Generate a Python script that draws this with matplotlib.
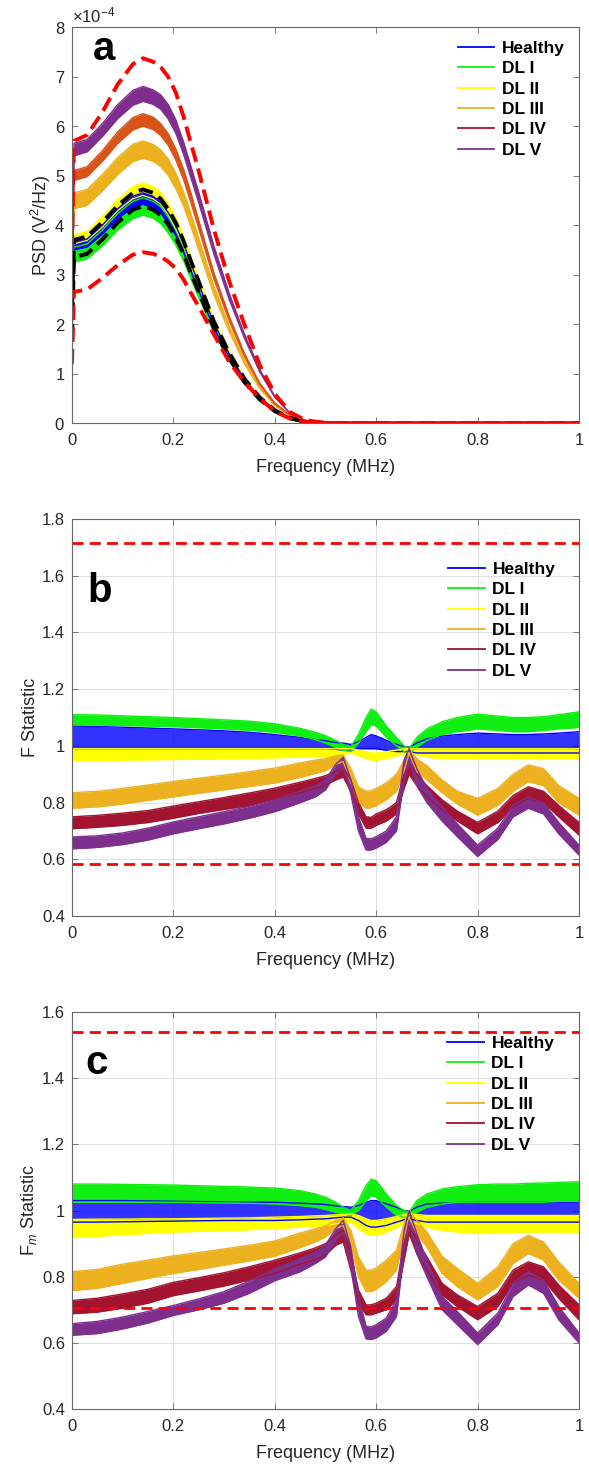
import numpy as np
import matplotlib
matplotlib.use('Agg')
import matplotlib.pyplot as plt
from matplotlib.lines import Line2D
from matplotlib.ticker import ScalarFormatter, FuncFormatter

plt.rcParams['font.family'] = ['Liberation Sans', 'DejaVu Sans']
plt.rcParams['mathtext.fontset'] = 'custom'
plt.rcParams['mathtext.rm'] = 'Liberation Sans'
plt.rcParams['mathtext.it'] = 'Liberation Sans:italic'
plt.rcParams['mathtext.bf'] = 'Liberation Sans:bold'

# ---- datos ----
labels = ['Healthy', 'DL I', 'DL II', 'DL III', 'DL IV', 'DL V']
legend_colors = ['#0000FF', '#11EE11', '#FFFF00', '#EDB120', '#A2142F', '#7E2F8E']

# panel a: PSD (unidades de 1e-4 V^2/Hz), envolventes inferior / superior de cada grupo
xa = [0, 0.004, 0.03, 0.06, 0.09, 0.12, 0.14, 0.16, 0.175, 0.19, 0.205, 0.22, 0.235,
      0.25, 0.28, 0.31, 0.34, 0.37, 0.40, 0.43, 0.46, 0.49, 0.52, 0.6, 1.0]
a_green_lo = [1.65, 3.25, 3.32, 3.58, 3.90, 4.13, 4.20, 4.14, 4.03, 3.84, 3.59, 3.28, 2.90,
              2.54, 1.83, 1.26, 0.80, 0.46, 0.23, 0.09, 0.025, 0.004, 0, 0, 0]
a_green_hi = [1.80, 3.55, 3.62, 3.90, 4.23, 4.48, 4.55, 4.48, 4.37, 4.16, 3.89, 3.55, 3.14,
              2.75, 1.98, 1.37, 0.86, 0.50, 0.25, 0.10, 0.027, 0.005, 0, 0, 0]
a_blue_lo = [1.75, 3.50, 3.56, 3.82, 4.13, 4.36, 4.42, 4.35, 4.24, 4.04, 3.78, 3.45, 3.05,
             2.67, 1.92, 1.33, 0.84, 0.49, 0.24, 0.10, 0.027, 0.004, 0, 0, 0]
a_blue_hi = [1.85, 3.65, 3.72, 4.00, 4.33, 4.58, 4.65, 4.58, 4.46, 4.25, 3.98, 3.63, 3.21,
             2.81, 2.02, 1.40, 0.88, 0.51, 0.26, 0.10, 0.028, 0.005, 0, 0, 0]
a_yellow_lo = [1.80, 3.62, 3.69, 3.96, 4.29, 4.53, 4.60, 4.53, 4.42, 4.21, 3.93, 3.59, 3.17,
               2.78, 2.00, 1.38, 0.87, 0.51, 0.25, 0.10, 0.028, 0.005, 0, 0, 0]
a_yellow_hi = [1.90, 3.80, 3.87, 4.17, 4.51, 4.78, 4.85, 4.78, 4.66, 4.44, 4.15, 3.78, 3.35,
               2.93, 2.11, 1.46, 0.92, 0.53, 0.27, 0.11, 0.03, 0.005, 0, 0, 0]
a_orange_lo = [2.15, 4.33, 4.40, 4.69, 5.02, 5.28, 5.35, 5.29, 5.18, 5.00, 4.73, 4.39, 3.96,
               3.50, 2.59, 1.85, 1.20, 0.70, 0.35, 0.14, 0.04, 0.01, 0, 0, 0]
a_orange_hi = [2.30, 4.65, 4.72, 5.02, 5.36, 5.63, 5.70, 5.63, 5.52, 5.33, 5.04, 4.67, 4.22,
               3.73, 2.76, 1.97, 1.28, 0.74, 0.37, 0.15, 0.05, 0.01, 0, 0, 0]
a_red_lo = [2.45, 4.90, 4.98, 5.29, 5.65, 5.92, 6.00, 5.93, 5.81, 5.61, 5.31, 4.92, 4.44,
            3.93, 2.91, 2.07, 1.35, 0.78, 0.39, 0.16, 0.05, 0.01, 0, 0, 0]
a_red_hi = [2.55, 5.10, 5.18, 5.50, 5.88, 6.17, 6.25, 6.18, 6.05, 5.84, 5.53, 5.13, 4.63,
            4.09, 3.03, 2.16, 1.41, 0.81, 0.41, 0.16, 0.05, 0.01, 0, 0, 0]
a_purple_lo = [2.70, 5.40, 5.48, 5.79, 6.15, 6.42, 6.50, 6.44, 6.34, 6.14, 5.85, 5.43, 4.94,
               4.45, 3.41, 2.50, 1.72, 1.04, 0.52, 0.20, 0.05, 0.01, 0, 0, 0]
a_purple_hi = [2.80, 5.65, 5.73, 6.05, 6.43, 6.72, 6.80, 6.73, 6.63, 6.43, 6.12, 5.68, 5.17,
               4.66, 3.57, 2.62, 1.80, 1.09, 0.54, 0.20, 0.05, 0.01, 0, 0, 0]
a_black_hi = [2.30, 3.70, 3.77, 4.06, 4.39, 4.65, 4.72, 4.65, 4.53, 4.32, 4.04, 3.68, 3.26,
              2.86, 2.05, 1.42, 0.90, 0.52, 0.26, 0.10, 0.03, 0.005, 0, 0, 0]
a_black_lo = [1.70, 3.35, 3.42, 3.71, 4.05, 4.31, 4.38, 4.31, 4.20, 4.01, 3.74, 3.42, 3.02,
              2.65, 1.91, 1.31, 0.83, 0.48, 0.24, 0.10, 0.03, 0.005, 0, 0, 0]
a_limit_hi = [3.50, 5.70, 5.82, 6.28, 6.84, 7.25, 7.37, 7.30, 7.19, 6.99, 6.67, 6.19, 5.64,
              5.09, 3.91, 2.87, 1.99, 1.18, 0.59, 0.22, 0.06, 0.015, 0, 0, 0]
a_limit_lo = [1.20, 2.65, 2.70, 2.93, 3.19, 3.40, 3.45, 3.42, 3.36, 3.26, 3.12, 2.90, 2.62,
              2.35, 1.79, 1.24, 0.83, 0.50, 0.24, 0.09, 0.03, 0.005, 0, 0, 0]

# paneles b y c: eje de frecuencia comun
xb = [0, 0.05, 0.1, 0.15, 0.2, 0.25, 0.3, 0.35, 0.4, 0.45, 0.48, 0.5, 0.52, 0.535,
      0.55, 0.565, 0.58, 0.59, 0.6, 0.62, 0.64, 0.655, 0.665, 0.68, 0.7, 0.73, 0.76,
      0.8, 0.84, 0.87, 0.9, 0.93, 0.96, 1.0]

# panel b: estadistico F
b_blue_lo = [0.99, 0.99, 0.99, 0.99, 0.99, 0.99, 0.99, 0.99, 0.99, 0.99, 0.99, 0.99,
             0.988, 0.985, 0.985, 0.99, 0.99, 0.99, 0.99, 0.985, 0.98, 0.98, 0.98, 0.975,
             0.975, 0.975, 0.975, 0.975, 0.975, 0.975, 0.975, 0.975, 0.975, 0.975]
b_blue_hi = [1.07, 1.068, 1.066, 1.063, 1.06, 1.057, 1.053, 1.048, 1.04, 1.03, 1.022,
             1.018, 1.012, 1.01, 1.005, 1.015, 1.03, 1.04, 1.035, 1.02, 1.005, 0.998, 0.995,
             1.01, 1.025, 1.035, 1.04, 1.045, 1.042, 1.04, 1.04, 1.042, 1.045, 1.05]
b_green_lo = [1.075, 1.074, 1.072, 1.07, 1.068, 1.064, 1.06, 1.055, 1.048, 1.035, 1.022,
              1.01, 0.995, 0.985, 0.98, 1.01, 1.05, 1.075, 1.07, 1.03, 1.0, 0.98, 0.975,
              0.995, 1.02, 1.04, 1.05, 1.06, 1.055, 1.05, 1.05, 1.055, 1.06, 1.065]
b_green_hi = [1.11, 1.109, 1.106, 1.103, 1.1, 1.096, 1.092, 1.087, 1.078, 1.062, 1.048,
              1.036, 1.02, 1.005, 0.998, 1.04, 1.1, 1.13, 1.12, 1.07, 1.03, 1.0, 0.99,
              1.03, 1.06, 1.085, 1.1, 1.112, 1.105, 1.1, 1.1, 1.103, 1.11, 1.12]
b_yellow_lo = [0.948, 0.949, 0.95, 0.951, 0.952, 0.953, 0.954, 0.956, 0.958, 0.96, 0.961,
               0.962, 0.966, 0.97, 0.975, 0.965, 0.955, 0.95, 0.95, 0.955, 0.965, 0.972,
               0.975, 0.968, 0.96, 0.956, 0.955, 0.955, 0.955, 0.955, 0.955, 0.955, 0.955, 0.955]
b_yellow_hi = [0.99, 0.99, 0.99, 0.99, 0.99, 0.99, 0.99, 0.99, 0.99, 0.99, 0.99, 0.99,
               0.99, 0.99, 0.99, 0.985, 0.98, 0.975, 0.975, 0.98, 0.985, 0.99, 0.99, 0.99,
               0.99, 0.99, 0.99, 0.99, 0.99, 0.99, 0.99, 0.99, 0.99, 0.99]
b_orange_lo = [0.78, 0.785, 0.795, 0.808, 0.82, 0.833, 0.845, 0.857, 0.869, 0.889, 0.903,
               0.912, 0.935, 0.945, 0.87, 0.80, 0.78, 0.782, 0.79, 0.81, 0.84, 0.91, 0.975,
               0.91, 0.88, 0.835, 0.795, 0.756, 0.79, 0.84, 0.874, 0.86, 0.80, 0.756]
b_orange_hi = [0.835, 0.84, 0.85, 0.862, 0.875, 0.886, 0.897, 0.909, 0.922, 0.94, 0.95,
               0.955, 0.965, 0.968, 0.92, 0.855, 0.84, 0.842, 0.85, 0.87, 0.9, 0.95, 0.99,
               0.955, 0.93, 0.88, 0.84, 0.815, 0.85, 0.9, 0.933, 0.92, 0.86, 0.815]
b_red_lo = [0.708, 0.713, 0.72, 0.73, 0.745, 0.762, 0.776, 0.79, 0.81, 0.835, 0.85, 0.862,
            0.88, 0.89, 0.84, 0.76, 0.71, 0.71, 0.72, 0.735, 0.76, 0.85, 0.9, 0.86, 0.82,
            0.775, 0.735, 0.69, 0.73, 0.785, 0.815, 0.8, 0.75, 0.686]
b_red_hi = [0.75, 0.755, 0.763, 0.772, 0.788, 0.803, 0.818, 0.834, 0.851, 0.872, 0.885,
            0.895, 0.91, 0.925, 0.88, 0.8, 0.75, 0.748, 0.76, 0.775, 0.8, 0.9, 0.94, 0.9,
            0.86, 0.81, 0.77, 0.73, 0.77, 0.825, 0.856, 0.84, 0.79, 0.73]
b_purple_lo = [0.637, 0.642, 0.652, 0.668, 0.69, 0.708, 0.725, 0.745, 0.768, 0.8, 0.82,
               0.845, 0.9, 0.925, 0.83, 0.7, 0.633, 0.633, 0.64, 0.66, 0.7, 0.88, 0.95,
               0.86, 0.8, 0.735, 0.68, 0.61, 0.67, 0.75, 0.78, 0.76, 0.69, 0.615]
b_purple_hi = [0.679, 0.683, 0.693, 0.71, 0.732, 0.75, 0.768, 0.787, 0.81, 0.84, 0.86,
               0.88, 0.935, 0.96, 0.88, 0.75, 0.674, 0.672, 0.68, 0.7, 0.75, 0.95, 0.99,
               0.92, 0.85, 0.785, 0.725, 0.65, 0.71, 0.79, 0.82, 0.8, 0.73, 0.65]
b_limits = [1.717, 0.583]

# panel c: estadistico Fm
c_blue_lo = [0.965, 0.965, 0.966, 0.967, 0.968, 0.969, 0.97, 0.97, 0.97, 0.972, 0.974,
             0.975, 0.978, 0.98, 0.98, 0.97, 0.955, 0.95, 0.95, 0.955, 0.965, 0.972, 0.975,
             0.97, 0.965, 0.965, 0.965, 0.965, 0.965, 0.965, 0.965, 0.965, 0.965, 0.965]
c_blue_hi = [1.03, 1.03, 1.03, 1.029, 1.028, 1.027, 1.026, 1.025, 1.025, 1.022, 1.02,
             1.018, 1.014, 1.012, 1.01, 1.015, 1.025, 1.03, 1.03, 1.02, 1.01, 1.0, 0.998,
             1.01, 1.02, 1.022, 1.024, 1.025, 1.025, 1.025, 1.025, 1.025, 1.025, 1.025]
c_green_lo = [1.025, 1.025, 1.025, 1.025, 1.025, 1.024, 1.023, 1.022, 1.02, 1.015, 1.01,
              1.003, 0.995, 0.99, 0.985, 1.0, 1.03, 1.045, 1.04, 1.01, 0.985, 0.98, 0.98,
              0.995, 1.01, 1.02, 1.025, 1.025, 1.025, 1.025, 1.025, 1.025, 1.028, 1.03]
c_green_hi = [1.08, 1.08, 1.079, 1.078, 1.077, 1.075, 1.073, 1.071, 1.068, 1.06, 1.05,
              1.04, 1.025, 1.01, 1.0, 1.03, 1.075, 1.095, 1.09, 1.05, 1.015, 1.0, 0.995,
              1.03, 1.05, 1.065, 1.072, 1.078, 1.08, 1.08, 1.082, 1.083, 1.085, 1.087]
c_yellow_lo = [0.918, 0.922, 0.927, 0.931, 0.935, 0.937, 0.939, 0.942, 0.945, 0.95, 0.953,
               0.955, 0.96, 0.963, 0.965, 0.945, 0.93, 0.925, 0.925, 0.935, 0.948, 0.962,
               0.97, 0.96, 0.95, 0.94, 0.935, 0.93, 0.932, 0.935, 0.935, 0.935, 0.935, 0.935]
c_yellow_hi = [0.973, 0.974, 0.974, 0.975, 0.975, 0.976, 0.977, 0.978, 0.98, 0.982, 0.984,
               0.985, 0.987, 0.988, 0.99, 0.985, 0.975, 0.97, 0.97, 0.975, 0.982, 0.988,
               0.99, 0.988, 0.985, 0.985, 0.985, 0.985, 0.985, 0.985, 0.985, 0.985, 0.985, 0.985]
c_orange_lo = [0.758, 0.765, 0.78, 0.795, 0.81, 0.822, 0.835, 0.848, 0.862, 0.888, 0.905,
               0.92, 0.945, 0.955, 0.9, 0.8, 0.755, 0.755, 0.762, 0.785, 0.82, 0.92, 0.98,
               0.93, 0.89, 0.81, 0.77, 0.73, 0.77, 0.84, 0.87, 0.85, 0.79, 0.735]
c_orange_hi = [0.815, 0.822, 0.838, 0.85, 0.863, 0.873, 0.884, 0.895, 0.908, 0.932, 0.945,
               0.953, 0.97, 0.978, 0.94, 0.86, 0.82, 0.82, 0.827, 0.85, 0.88, 0.96, 1.0,
               0.97, 0.935, 0.862, 0.825, 0.78, 0.83, 0.9, 0.925, 0.905, 0.845, 0.78]
c_red_lo = [0.688, 0.693, 0.705, 0.72, 0.743, 0.757, 0.772, 0.79, 0.81, 0.838, 0.852,
            0.865, 0.895, 0.905, 0.82, 0.72, 0.685, 0.685, 0.69, 0.7, 0.73, 0.85, 0.93,
            0.87, 0.82, 0.745, 0.71, 0.67, 0.71, 0.78, 0.805, 0.79, 0.735, 0.67]
c_red_hi = [0.728, 0.735, 0.748, 0.762, 0.783, 0.797, 0.812, 0.83, 0.85, 0.872, 0.887,
            0.9, 0.925, 0.94, 0.87, 0.76, 0.715, 0.715, 0.72, 0.735, 0.77, 0.9, 0.955,
            0.91, 0.86, 0.78, 0.745, 0.71, 0.75, 0.82, 0.845, 0.83, 0.775, 0.715]
c_purple_lo = [0.623, 0.628, 0.642, 0.66, 0.683, 0.7, 0.72, 0.75, 0.788, 0.815, 0.84,
               0.86, 0.91, 0.935, 0.83, 0.68, 0.612, 0.61, 0.615, 0.635, 0.68, 0.88, 0.97,
               0.87, 0.8, 0.7, 0.655, 0.595, 0.655, 0.74, 0.775, 0.75, 0.67, 0.6]
c_purple_hi = [0.658, 0.665, 0.678, 0.695, 0.713, 0.733, 0.755, 0.787, 0.823, 0.855, 0.875,
               0.895, 0.945, 0.97, 0.89, 0.74, 0.65, 0.648, 0.655, 0.675, 0.73, 0.94, 1.0,
               0.93, 0.85, 0.74, 0.695, 0.63, 0.69, 0.78, 0.815, 0.79, 0.71, 0.63]
c_limits = [1.54, 0.705]

TXT = '#262626'


def band(ax, x, lo, hi, color, scale=1.0, alpha=1.0):
    lo = np.array(lo) * scale
    hi = np.array(hi) * scale
    ax.fill_between(x, lo, hi, color=color, lw=0, alpha=alpha)
    ax.plot(x, lo, color=color, lw=1.0)
    ax.plot(x, hi, color=color, lw=1.0)


def style(ax, grid):
    ax.set_xlim(0, 1)
    ax.set_xticks([0, 0.2, 0.4, 0.6, 0.8, 1.0])
    ax.xaxis.set_major_formatter(FuncFormatter(lambda v, p: f'{v:g}'))
    ax.tick_params(direction='in', top=True, right=True, length=4, width=0.6,
                   color='#666666', labelcolor=TXT, labelsize=12)
    ax.tick_params(axis='x', pad=7)
    ax.tick_params(axis='y', pad=5)
    for s in ax.spines.values():
        s.set_color('#666666')
        s.set_linewidth(0.8)
    if grid:
        ax.grid(True, color='#e0e0e0', lw=0.7)
        ax.set_axisbelow(True)
    ax.set_xlabel('Frequency (MHz)', fontsize=13, color=TXT, labelpad=8)


def legend(ax, anchor):
    handles = [Line2D([], [], color=c, lw=1.3) for c in legend_colors]
    ax.legend(handles, labels, loc='upper left', bbox_to_anchor=anchor, frameon=False,
              prop={'weight': 'bold', 'size': 12.5}, handlelength=2.1, handletextpad=0.45,
              labelspacing=0.3, borderpad=0, borderaxespad=0)


fig = plt.figure(figsize=(5.89, 14.69), dpi=100)
ax_a = fig.add_axes([0.1222, 0.7120, 0.8608, 0.2696])
ax_b = fig.add_axes([0.1222, 0.3764, 0.8608, 0.2703])
ax_c = fig.add_axes([0.1222, 0.0408, 0.8608, 0.2703])

# ---- a ----
band(ax_a, xa, a_green_lo, a_green_hi, '#11EE11', 1e-4)
band(ax_a, xa, a_yellow_lo, a_yellow_hi, '#FFFF00', 1e-4)
band(ax_a, xa, a_blue_lo, a_blue_hi, '#0000FF', 1e-4)
band(ax_a, xa, a_orange_lo, a_orange_hi, '#EDB120', 1e-4)
band(ax_a, xa, a_red_lo, a_red_hi, '#D95319', 1e-4)
band(ax_a, xa, a_purple_lo, a_purple_hi, '#7E2F8E', 1e-4)
for ys in (a_black_hi, a_black_lo):
    ax_a.plot(xa, np.array(ys) * 1e-4, color='k', lw=2.8, dashes=(3.8, 1.8))
for ys in (a_limit_hi, a_limit_lo):
    ax_a.plot(xa, np.array(ys) * 1e-4, color='#FF0000', lw=2.8, dashes=(3.8, 1.8))
style(ax_a, False)
ax_a.set_ylim(0, 8e-4)
ax_a.set_yticks(np.arange(0, 9) * 1e-4)
fmt = ScalarFormatter(useMathText=True)
fmt.set_powerlimits((-3, 3))
ax_a.yaxis.set_major_formatter(fmt)
ax_a.yaxis.get_offset_text().set_fontsize(12)
ax_a.yaxis.get_offset_text().set_color(TXT)
ax_a.set_ylabel('PSD (V$^2$/Hz)', fontsize=13, color=TXT, labelpad=1)
ax_a.text(0.041, 0.917, 'a', transform=ax_a.transAxes, fontsize=29, fontweight='bold',
          va='baseline')
legend(ax_a, (0.761, 0.965))

# ---- b y c ----
panels = [
    (ax_b, b_blue_lo, b_blue_hi, b_green_lo, b_green_hi, b_yellow_lo, b_yellow_hi,
     b_orange_lo, b_orange_hi, b_red_lo, b_red_hi, b_purple_lo, b_purple_hi, b_limits),
    (ax_c, c_blue_lo, c_blue_hi, c_green_lo, c_green_hi, c_yellow_lo, c_yellow_hi,
     c_orange_lo, c_orange_hi, c_red_lo, c_red_hi, c_purple_lo, c_purple_hi, c_limits),
]
for p in panels:
    ax = p[0]
    band(ax, xb, p[1], p[2], '#0000FF', alpha=0.8)
    band(ax, xb, p[3], p[4], '#11EE11')
    band(ax, xb, p[5], p[6], '#FFFF00')
    band(ax, xb, p[7], p[8], '#EDB120')
    band(ax, xb, p[9], p[10], '#A2142F')
    band(ax, xb, p[11], p[12], '#7E2F8E')
    for lim in p[13]:
        ax.axhline(lim, color='#FF0000', lw=2.0, dashes=(4, 2.2))
    style(ax, True)
    ax.yaxis.set_major_formatter(FuncFormatter(lambda v, q: f'{v:g}'))

ax_b.set_ylim(0.4, 1.8)
ax_b.set_yticks([0.4, 0.6, 0.8, 1.0, 1.2, 1.4, 1.6, 1.8])
ax_b.set_ylabel('F Statistic', fontsize=13, color=TXT, labelpad=2)
ax_b.text(0.030, 0.791, 'b', transform=ax_b.transAxes, fontsize=29, fontweight='bold',
          va='baseline')
legend(ax_b, (0.742, 0.892))

ax_c.set_ylim(0.4, 1.6)
ax_c.set_yticks([0.4, 0.6, 0.8, 1.0, 1.2, 1.4, 1.6])
ax_c.set_ylabel('F$_m$ Statistic', fontsize=13, color=TXT, labelpad=2)
ax_c.text(0.026, 0.844, 'c', transform=ax_c.transAxes, fontsize=29, fontweight='bold',
          va='baseline')
legend(ax_c, (0.740, 0.940))

fig.savefig('out.png', dpi=100)
